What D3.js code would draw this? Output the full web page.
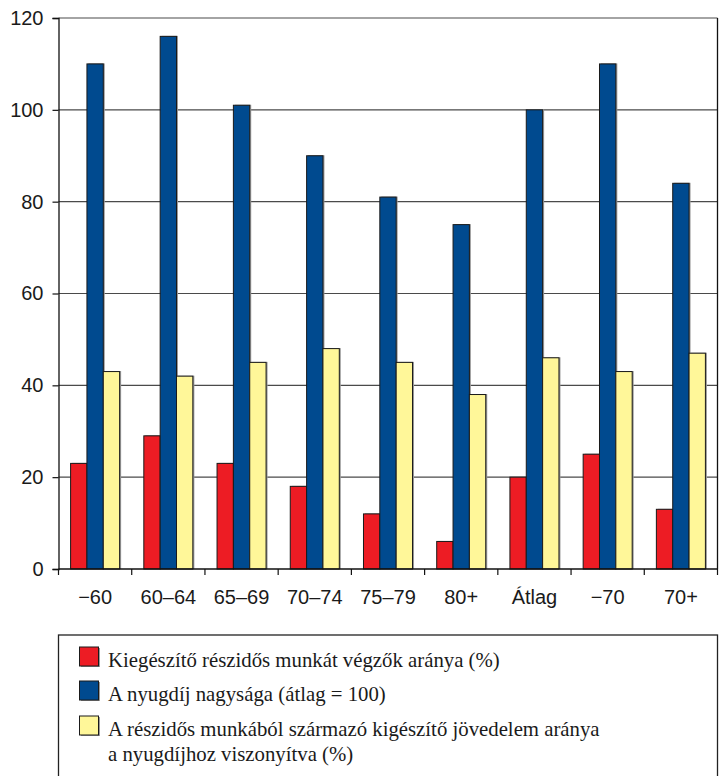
<!DOCTYPE html>
<html>
<head>
<meta charset="utf-8">
<script src="https://cdn.jsdelivr.net/npm/d3@7"></script>
<style>
  html, body { margin: 0; padding: 0; background: #fff; }
  svg { display: block; }
  .tick-label { font-family: "Liberation Sans", Arial, sans-serif; font-size: 20px; fill: #1a1a1a; }
  .legend-text { font-family: "Liberation Serif", "Times New Roman", serif; font-size: 22px; fill: #1a1a1a; }
</style>
</head>
<body>
<svg id="chart" width="723" height="776"></svg>
<script>
// Age groups / pension groups
const categories = ["\u221260", "60\u201364", "65\u201369", "70\u201374", "75\u201379", "80+", "\u00c1tlag", "\u221270", "70+"];
// Share doing supplementary part-time work (%)
const partTimeShare = [23, 29, 23, 18, 12, 6, 20, 25, 13];
// Pension size (average = 100)
const pensionLevel = [110, 116, 101, 90, 81, 75, 100, 110, 84];
// Supplementary income from part-time work relative to pension (%)
const incomeRatio = [43, 42, 45, 48, 45, 38, 46, 43, 47];
const yTicks = [0, 20, 40, 60, 80, 100, 120];

const seriesNames = [
  "Kieg\u00e9sz\u00edt\u0151 r\u00e9szid\u0151s munk\u00e1t v\u00e9gz\u0151k ar\u00e1nya (%)",
  "A nyugd\u00edj nagys\u00e1ga (\u00e1tlag = 100)",
  "A r\u00e9szid\u0151s munk\u00e1b\u00f3l sz\u00e1rmaz\u00f3 kig\u00e9sz\u00edt\u0151 j\u00f6vedelem ar\u00e1nya\na nyugd\u00edjhoz viszony\u00edtva (%)"
];
const seriesColors = ["#ed1c24", "#004a8f", "#fff799"];
const seriesValues = [partTimeShare, pensionLevel, incomeRatio];

const svg = d3.select("#chart");
const plot = { left: 58.5, right: 717.5, top: 18, bottom: 569 };

const x0 = d3.scaleBand().domain(categories).range([plot.left, plot.right]).padding(0);
const x1 = d3.scaleBand().domain([0, 1, 2]).range([0, x0.bandwidth()])
  .paddingInner(0).paddingOuter(0.74);
const y = d3.scaleLinear().domain([0, 120]).range([plot.bottom, plot.top]);

// Horizontal gridlines
svg.append("g")
  .selectAll("line")
  .data(yTicks.filter(d => d > 0))
  .join("line")
  .attr("x1", plot.left).attr("x2", plot.right)
  .attr("y1", d => y(d)).attr("y2", d => y(d))
  .attr("stroke", "#4a4a4a").attr("stroke-width", 1.2);

// Bars
const groups = svg.append("g")
  .selectAll("g")
  .data(categories)
  .join("g")
  .attr("transform", d => `translate(${x0(d)},0)`);

groups.each(function(cat, ci) {
  const g = d3.select(this);
  seriesValues.forEach((vals, si) => {
    const v = vals[ci];
    // soft shadow
    g.append("rect")
      .attr("x", x1(si) + 1.5)
      .attr("y", y(v) - 0.5)
      .attr("width", x1.bandwidth())
      .attr("height", y(0) - y(v) + 0.5)
      .attr("fill", "#9a9a9a");
    g.append("rect")
      .attr("x", x1(si))
      .attr("y", y(v))
      .attr("width", x1.bandwidth())
      .attr("height", y(0) - y(v))
      .attr("fill", seriesColors[si])
      .attr("stroke", "#1a1a1a")
      .attr("stroke-width", 1);
  });
});

// Right border
svg.append("line")
  .attr("x1", plot.right).attr("x2", plot.right)
  .attr("y1", plot.top).attr("y2", plot.bottom)
  .attr("stroke", "#111").attr("stroke-width", 1.3);

// Y axis
const yAxis = svg.append("g")
  .attr("transform", `translate(${plot.left},0)`)
  .call(d3.axisLeft(y).tickValues(yTicks).tickSize(6).tickPadding(9));
yAxis.select(".domain").attr("stroke", "#111").attr("stroke-width", 1.3);
yAxis.selectAll(".tick line").attr("stroke", "#111").attr("stroke-width", 1.2);
yAxis.selectAll(".tick text").attr("class", "tick-label").attr("font-size", null).attr("font-family", null);
yAxis.attr("font-size", null).attr("font-family", null);

// X axis with ticks between categories
const xAxis = svg.append("g")
  .attr("transform", `translate(0,${plot.bottom})`);
xAxis.append("line")
  .attr("x1", plot.left).attr("x2", plot.right)
  .attr("stroke", "#111").attr("stroke-width", 1.3);
xAxis.selectAll("line.sep")
  .data(categories.slice(0).concat(["end"]))
  .join("line")
  .attr("class", "sep")
  .attr("x1", (d, i) => plot.left + i * x0.step())
  .attr("x2", (d, i) => plot.left + i * x0.step())
  .attr("y1", 0).attr("y2", 6)
  .attr("stroke", "#111").attr("stroke-width", 1.2);
xAxis.selectAll("text")
  .data(categories)
  .join("text")
  .attr("class", "tick-label")
  .attr("x", d => x0(d) + x0.bandwidth() / 2)
  .attr("y", 35)
  .attr("text-anchor", "middle")
  .text(d => d);

// Legend
const legend = svg.append("g");
legend.append("rect")
  .attr("x", 58.5).attr("y", 635)
  .attr("width", 659).attr("height", 160)
  .attr("fill", "none").attr("stroke", "#222").attr("stroke-width", 1.3);

const rowTop = [647, 681, 716];
const lineGap = 25;
seriesNames.forEach((name, i) => {
  legend.append("rect")
    .attr("x", 81).attr("y", rowTop[i] + 1)
    .attr("width", 19).attr("height", 19)
    .attr("fill", "#9a9a9a");
  legend.append("rect")
    .attr("x", 79.5).attr("y", rowTop[i])
    .attr("width", 19).attr("height", 19)
    .attr("fill", seriesColors[i]).attr("stroke", "#1a1a1a").attr("stroke-width", 1);
  const t = legend.append("text")
    .attr("class", "legend-text")
    .attr("transform", `translate(108,${rowTop[i] + 20}) scale(0.945,1)`);
  name.split("\n").forEach((ln, li) => {
    t.append("tspan").attr("x", 0).attr("y", li * lineGap).text(ln);
  });
});
</script>
</body>
</html>
